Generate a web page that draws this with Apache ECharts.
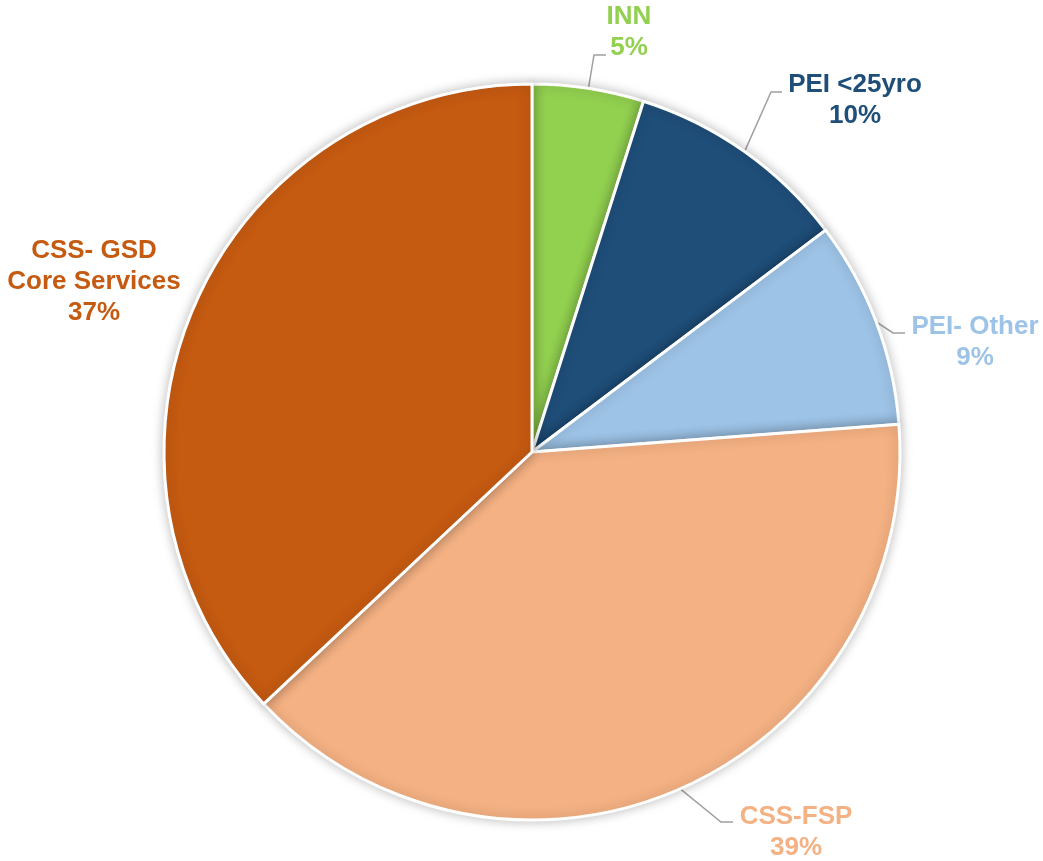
<!DOCTYPE html>
<html>
<head>
<meta charset="utf-8">
<script src="https://cdn.jsdelivr.net/npm/echarts@6/dist/echarts.min.js"></script>
<style>html,body{margin:0;padding:0;background:#fff}#c{width:1043px;height:861px}</style>
</head>
<body>
<div id="c"></div>
<script>
const categories = ['INN', 'PEI <25yro', 'PEI- Other', 'CSS-FSP', 'CSS- GSD\nCore Services'];
const values = [4.9, 9.8, 9.1, 39.2, 37.0];
const colors = ['#92D050', '#1F4E79', '#9DC3E6', '#F4B183', '#C55A11'];

// label block centres (annotation placement)
const labelPos = [[629, 32], [855, 100], [975, 342], [796, 832], [94, 282]];
const elbow = [[594, 55, 606, 55], [771, 92, 782, 92], [893, 333, 905, 333], [721, 822, 733, 822], null];

const chart = echarts.init(document.getElementById('c'));
chart.setOption({
  animation: false,
  series: [{
    type: 'pie',
    center: [532, 452],
    radius: 368,
    startAngle: 90,
    clockwise: true,
    avoidLabelOverlap: false,
    percentPrecision: 0,
    itemStyle: {
      borderColor: '#fff', borderWidth: 3,
      shadowBlur: 12, shadowColor: 'rgba(0,0,0,0.25)'
    },
    label: {
      show: true,
      formatter: '{b}\n{d}%',
      fontFamily: 'Liberation Sans, Arial, sans-serif',
      fontWeight: 'bold',
      fontSize: 26,
      lineHeight: 31,
      align: 'center'
    },
    labelLine: { show: true, lineStyle: { color: '#A0A0A0', width: 1.5 } },
    emphasis: { disabled: true },
    labelLayout: function (p) {
      const i = p.dataIndex;
      const res = { x: labelPos[i][0], y: labelPos[i][1], align: 'center', verticalAlign: 'middle' };
      if (elbow[i] && p.labelLinePoints) {
        const s = p.labelLinePoints[0];
        res.labelLinePoints = [[s[0], s[1]], [elbow[i][0], elbow[i][1]], [elbow[i][2], elbow[i][3]]];
      }
      return res;
    },
    data: categories.map((n, i) => ({
      name: n,
      value: values[i],
      itemStyle: { color: colors[i] },
      label: { color: colors[i] },
      labelLine: { show: i !== 4 }
    }))
  }]
});
</script>
</body>
</html>
